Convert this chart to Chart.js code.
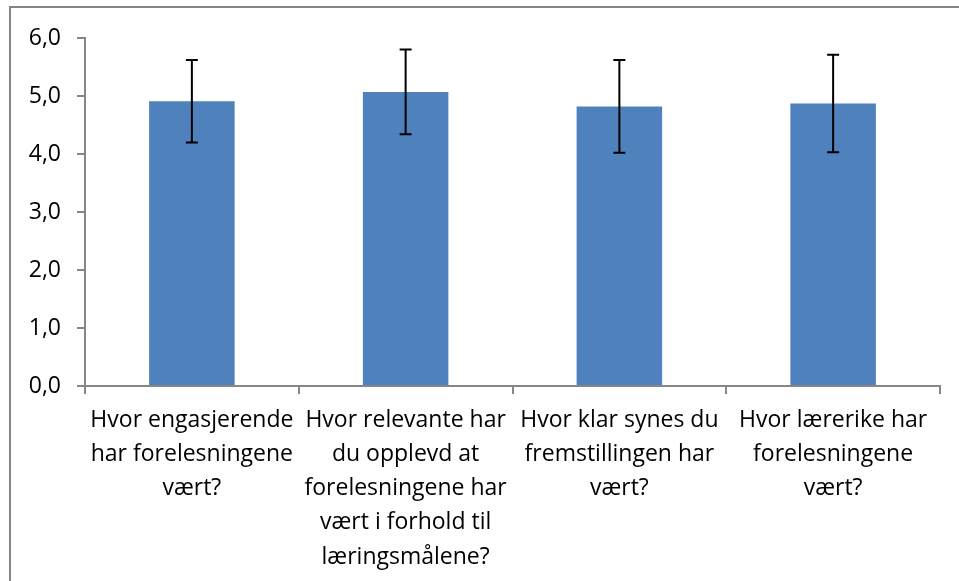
<!DOCTYPE html>
<html>
<head>
<meta charset="utf-8">
<script src="https://cdn.jsdelivr.net/npm/chart.js@4/dist/chart.umd.min.js"></script>
<style>
  html, body { margin: 0; padding: 0; background: #fff; }
  #wrap { width: 959px; height: 581px; position: relative; }
</style>
</head>
<body>
<div id="wrap"><canvas id="chart"></canvas></div>
<script>
const categories = [
  ['Hvor engasjerende', 'har forelesningene', 'vært?'],
  ['Hvor relevante har', 'du opplevd at', 'forelesningene har', 'vært i forhold til', 'læringsmålene?'],
  ['Hvor klar synes du', 'fremstillingen har', 'vært?'],
  ['Hvor lærerike har', 'forelesningene', 'vært?']
];
const means = [4.91, 5.07, 4.82, 4.87];
const errors = [0.71, 0.73, 0.80, 0.84];
const yTicks = [0, 1, 2, 3, 4, 5, 6];

const FONT = 'Open Sans';

// frame around the whole chart
const framePlugin = {
  id: 'frame',
  beforeDraw(chart) {
    const ctx = chart.ctx;
    ctx.save();
    ctx.strokeStyle = '#868686';
    ctx.lineWidth = 2;
    ctx.strokeRect(10, 7, 1000, 1000);
    ctx.restore();
  }
};

// error bars drawn from the y scale
const errorBars = {
  id: 'errorBars',
  afterDatasetsDraw(chart) {
    const ctx = chart.ctx;
    const y = chart.scales.y;
    const meta = chart.getDatasetMeta(0);
    ctx.save();
    ctx.strokeStyle = '#000';
    ctx.lineWidth = 2;
    meta.data.forEach((bar, i) => {
      const top = y.getPixelForValue(means[i] + errors[i]);
      const bottom = y.getPixelForValue(means[i] - errors[i]);
      ctx.beginPath();
      ctx.moveTo(bar.x, top);
      ctx.lineTo(bar.x, bottom);
      ctx.moveTo(bar.x - 6, top);
      ctx.lineTo(bar.x + 6, top);
      ctx.moveTo(bar.x - 6, bottom);
      ctx.lineTo(bar.x + 6, bottom);
      ctx.stroke();
    });
    ctx.restore();
  }
};

new Chart(document.getElementById('chart'), {
  type: 'bar',
  data: {
    labels: categories,
    datasets: [{
      data: means,
      backgroundColor: '#4F81BD',
      barPercentage: 0.4,
      categoryPercentage: 1
    }]
  },
  options: {
    responsive: true,
    maintainAspectRatio: false,
    animation: false,
    layout: { padding: { left: 0, top: 38, right: 19, bottom: 0 } },
    plugins: {
      legend: { display: false },
      tooltip: { enabled: false }
    },
    scales: {
      y: {
        min: 0,
        max: 6,
        afterBuildTicks: s => { s.ticks = yTicks.map(v => ({ value: v })); },
        afterFit: s => { s.width = 85; },
        ticks: {
          color: '#000',
          font: { family: FONT, size: 23 },
          padding: 16,
          callback: v => v.toFixed(1).replace('.', ',')
        },
        grid: { drawOnChartArea: false, drawTicks: true, tickLength: 8, color: '#868686', lineWidth: 2 },
        border: { color: '#868686', width: 2 }
      },
      x: {
        afterFit: s => { s.height = 195; },
        ticks: {
          color: '#000',
          font: { family: FONT, size: 23, lineHeight: 1.49 },
          padding: 9,
          maxRotation: 0,
          autoSkip: false
        },
        grid: { offset: true, drawOnChartArea: false, drawTicks: true, tickLength: 8, color: '#868686', lineWidth: 2 },
        border: { color: '#868686', width: 2 }
      }
    }
  },
  plugins: [framePlugin, errorBars]
});
</script>
</body>
</html>
